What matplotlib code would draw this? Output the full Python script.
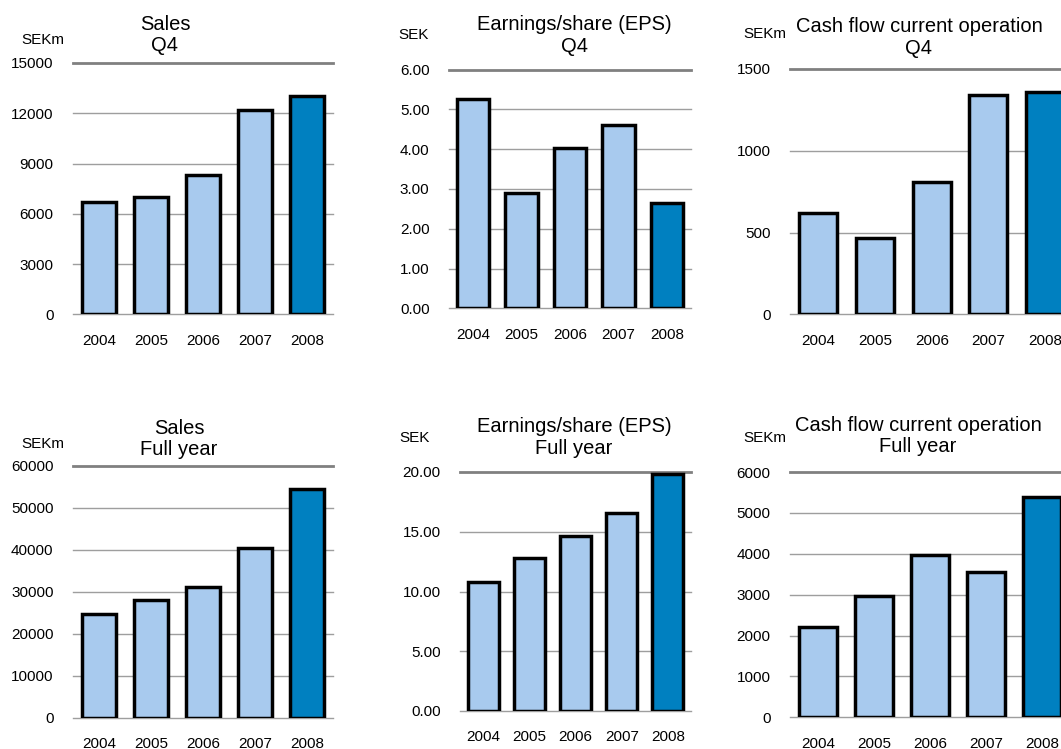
import matplotlib
matplotlib.use('Agg')
import matplotlib.pyplot as plt
from matplotlib.ticker import FormatStrFormatter

plt.rcParams['font.family'] = ['Liberation Sans', 'DejaVu Sans']

W, H = 1061, 749

years = ['2004', '2005', '2006', '2007', '2008']

sales_q4 = [6700, 7000, 8330, 12200, 13050]
eps_q4 = [5.27, 2.89, 4.04, 4.61, 2.65]
cash_q4 = [621, 468, 807, 1341, 1361]

sales_fy = [24600, 27950, 31050, 40450, 54450]
eps_fy = [10.82, 12.83, 14.64, 16.59, 19.83]
cash_fy = [2216, 2967, 3962, 3561, 5381]

titles = ['Sales\nQ4', 'Earnings/share (EPS)\nQ4', 'Cash flow current operation\nQ4',
          'Sales\nFull year', 'Earnings/share (EPS)\nFull year', 'Cash flow current operation\nFull year']
units = ['SEKm', 'SEK', 'SEKm', 'SEKm', 'SEK', 'SEKm']

LIGHT = '#a8caee'
DARK = '#0080c0'


def px_axes(fig, x0, x1, ytop, ybot):
    # pixel box (origin top left) -> figure fraction
    return fig.add_axes([x0 / W, 1 - ybot / H, (x1 - x0) / W, (ybot - ytop) / H])


def bar_panel(ax, values, yticks, fmt):
    colors = [LIGHT] * (len(values) - 1) + [DARK]
    x = range(len(values))
    ax.bar(x, values, width=0.67, color=colors, edgecolor='black', linewidth=2.5, zorder=3)
    for i, t in enumerate(yticks):
        top = i == len(yticks) - 1
        ax.axhline(t, color='#808080' if top else '#9e9e9e', lw=2.0 if top else 1.0,
                   zorder=1, clip_on=False)
    ax.set_xlim(-0.5, len(values) - 0.5)
    ax.set_ylim(yticks[0], yticks[-1])
    ax.set_yticks(yticks)
    ax.set_xticks(list(x))
    ax.set_xticklabels(years)
    ax.yaxis.set_major_formatter(FormatStrFormatter(fmt))
    ax.tick_params(length=0, pad=14, labelsize=11)
    for s in ax.spines.values():
        s.set_visible(False)
    ax.patch.set_alpha(0)


fig = plt.figure(figsize=(W / 100, H / 100), dpi=100)

boxes = [
    (73, 333, 63, 314.5),
    (449, 691, 69.5, 308.3),
    (790, 1073.5, 69, 314.3),
    (73, 333, 465.7, 717.7),
    (460, 691, 472, 711),
    (790, 1070, 472, 717.3),
]
data = [sales_q4, eps_q4, cash_q4, sales_fy, eps_fy, cash_fy]
ticks = [
    [0, 3000, 6000, 9000, 12000, 15000],
    [0, 1, 2, 3, 4, 5, 6],
    [0, 500, 1000, 1500],
    [0, 10000, 20000, 30000, 40000, 50000, 60000],
    [0, 5, 10, 15, 20],
    [0, 1000, 2000, 3000, 4000, 5000, 6000],
]
fmts = ['%d', '%.2f', '%d', '%d', '%.2f', '%d']

# title block centres and unit label centres, in pixels
title_pos = [(165, 35), (574, 35.5), (919, 37.5), (179, 439), (574, 437.5), (918, 436)]
unit_pos = [(43, 40.5), (414, 35), (764.5, 34), (43, 444), (414.5, 437.5), (764.5, 438)]

for box, vals, tk, fmt, title, tp, unit, up in zip(boxes, data, ticks, fmts, titles,
                                                 title_pos, units, unit_pos):
    ax = px_axes(fig, *box)
    bar_panel(ax, vals, tk, fmt)
    fig.text(tp[0] / W, 1 - tp[1] / H, title, ha='center', va='center',
             fontsize=14.5, linespacing=1.15)
    fig.text(up[0] / W, 1 - up[1] / H, unit, ha='center', va='center', fontsize=11)

fig.savefig('out.png', dpi=100)
